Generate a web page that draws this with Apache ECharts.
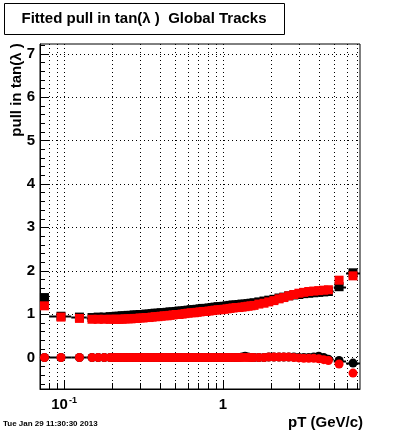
<!DOCTYPE html>
<html>
<head>
<meta charset="utf-8">
<script src="https://cdn.jsdelivr.net/npm/echarts@6/dist/echarts.min.js"></script>
<style>
html,body{margin:0;padding:0;background:#fff;}
#c{width:400px;height:433px;}
</style>
</head>
<body>
<div id="c"></div>
<script>
// ---- data ----
const pT = [0.0753, 0.0957, 0.125,
  0.150, 0.164, 0.179, 0.195,
  0.204, 0.213, 0.222, 0.232, 0.242, 0.253, 0.264, 0.276, 0.288, 0.301,
  0.314, 0.328, 0.343, 0.358, 0.374, 0.390, 0.408, 0.426, 0.445, 0.464,
  0.485, 0.507, 0.529, 0.553, 0.577, 0.603, 0.630, 0.658, 0.687, 0.717,
  0.749, 0.782, 0.817, 0.853, 0.891, 0.931, 0.972, 1.015, 1.060, 1.107,
  1.156, 1.208, 1.261, 1.317, 1.376, 1.437, 1.500, 1.567,
  1.68, 1.81, 1.94, 2.09, 2.25, 2.41, 2.59, 2.79, 3.00, 3.22,
  3.46, 3.72, 4.00, 4.30, 4.60, 5.37, 6.57];
const sigmaRed = [1.19, 0.93, 0.90,
  0.88, 0.88, 0.88, 0.88,
  0.88, 0.88, 0.88, 0.88, 0.89, 0.89, 0.89, 0.90, 0.90, 0.91,
  0.91, 0.92, 0.92, 0.93, 0.94, 0.94, 0.95, 0.96, 0.96, 0.97,
  0.98, 0.99, 0.99, 1.00, 1.01, 1.02, 1.03, 1.03, 1.04, 1.05,
  1.06, 1.06, 1.07, 1.08, 1.09, 1.10, 1.10, 1.11, 1.12, 1.13,
  1.14, 1.15, 1.15, 1.16, 1.17, 1.18, 1.19, 1.20,
  1.23, 1.25, 1.28, 1.31, 1.35, 1.38, 1.42, 1.45, 1.48, 1.50,
  1.52, 1.53, 1.54, 1.55, 1.56, 1.78, 1.88];
const sigmaBlack = [1.38, 0.95, 0.93,
  0.92, 0.93, 0.93, 0.94,
  0.94, 0.95, 0.95, 0.96, 0.96, 0.97, 0.97, 0.98, 0.98, 0.99,
  0.99, 1.00, 1.00, 1.01, 1.02, 1.02, 1.03, 1.03, 1.04, 1.05,
  1.05, 1.06, 1.07, 1.07, 1.08, 1.09, 1.10, 1.10, 1.11, 1.12,
  1.13, 1.13, 1.14, 1.15, 1.16, 1.17, 1.17, 1.18, 1.19, 1.20,
  1.21, 1.21, 1.22, 1.23, 1.23, 1.24, 1.25, 1.26,
  1.28, 1.30, 1.32, 1.34, 1.37, 1.39, 1.42, 1.44, 1.45, 1.47,
  1.48, 1.49, 1.50, 1.51, 1.52, 1.63, 1.95];
const meanRed = [0.00, 0.00, 0.00,
  0.00, 0.00, 0.00, 0.00,
  0.00, 0.00, 0.00, 0.00, 0.00, 0.00, 0.00, 0.00, 0.00, 0.00,
  0.00, 0.00, 0.00, 0.00, 0.00, 0.00, 0.00, 0.00, 0.00, 0.00,
  0.00, 0.00, 0.00, 0.00, 0.00, 0.00, 0.00, 0.00, 0.00, 0.00,
  0.00, 0.00, 0.00, 0.00, 0.00, 0.00, 0.00, 0.00, 0.00, 0.00,
  0.00, 0.00, 0.00, 0.00, 0.00, 0.00, 0.00, 0.00,
  0.00, 0.00, 0.01, 0.01, 0.01, 0.01, 0.01, 0.00, -0.01, -0.02,
  -0.02, -0.02, -0.03, -0.05, -0.07, -0.15, -0.36];
const meanBlack = [0.00, 0.00, 0.00,
  0.00, 0.00, 0.00, 0.00,
  0.00, 0.00, 0.00, 0.00, 0.00, 0.00, 0.00, 0.00, 0.00, 0.00,
  0.00, 0.00, 0.00, 0.00, 0.00, 0.00, 0.00, 0.00, 0.00, 0.00,
  0.00, 0.00, 0.00, 0.00, 0.00, 0.00, 0.00, 0.00, 0.00, 0.00,
  0.00, 0.00, 0.00, 0.00, 0.00, 0.00, 0.00, 0.00, 0.00, 0.00,
  0.00, 0.00, 0.00, 0.01, 0.03, 0.01, 0.00, 0.00,
  0.00, 0.00, 0.01, 0.01, 0.01, 0.01, 0.01, 0.01, 0.00, 0.00,
  0.00, 0.01, 0.03, 0.00, -0.04, -0.07, -0.13];
const firstBinEdges = [0.0705, 0.0805, 0.111, 0.139];

const xMajorTicks = [0.1, 1];
const xMinorTicks = [0.08, 0.09, 0.2, 0.3, 0.4, 0.5, 0.6, 0.7, 0.8, 0.9, 2, 3, 4, 5, 6, 7];
const yMajorTicks = [0, 1, 2, 3, 4, 5, 6, 7];
const yTickLabels = ['0', '1', '2', '3', '4', '5', '6', '7'];
const yMinorTicks = [-0.6, -0.4, -0.2, 0.2, 0.4, 0.6, 0.8, 1.2, 1.4, 1.6, 1.8, 2.2, 2.4, 2.6, 2.8,
  3.2, 3.4, 3.6, 3.8, 4.2, 4.4, 4.6, 4.8, 5.2, 5.4, 5.6, 5.8, 6.2, 6.4, 6.6, 6.8, 7.2];

const titleText = 'Fitted pull in tan(λ )  Global Tracks';
const yTitle = 'pull in tan(λ )';
const xTitle = 'pT (GeV/c)';
const dateText = 'Tue Jan 29 11:30:30 2013';

const X_MIN = 0.0706, X_MAX = 7.27, Y_MIN = -0.726, Y_MAX = 7.22;
const FONT = '"Liberation Sans", Arial, Helvetica, sans-serif';

// bin edges for black horizontal error bars
function edges(i) {
  let lo, hi;
  if (i + 1 < firstBinEdges.length) { lo = firstBinEdges[i]; hi = firstBinEdges[i + 1]; }
  else {
    lo = (i === firstBinEdges.length - 1) ? firstBinEdges[i] : Math.sqrt(pT[i - 1] * pT[i]);
    hi = (i === pT.length - 1) ? X_MAX : Math.sqrt(pT[i] * pT[i + 1]);
  }
  return [lo, hi];
}
const errData = [];
pT.forEach((x, i) => {
  const e = edges(i);
  errData.push([x, sigmaBlack[i], e[0], e[1]]);
  errData.push([x, meanBlack[i], e[0], e[1]]);
});

const px = v => Math.round(v) + 0.5;
const solid = c => ({color: c, opacity: 1, borderWidth: 0});

const chart = echarts.init(document.getElementById('c'), null, {renderer: 'canvas'});
chart.setOption({
  animation: false,
  backgroundColor: '#fff',
  grid: {left: 40, right: 40, top: 44, bottom: 44, show: true, borderColor: '#000', borderWidth: 1, backgroundColor: 'transparent'},
  xAxis: {
    type: 'log', logBase: 10, min: X_MIN, max: X_MAX,
    axisLine: {show: true, onZero: false, lineStyle: {color: '#000', width: 1}},
    axisTick: {show: false}, splitLine: {show: false}, minorTick: {show: false},
    axisLabel: {
      margin: 7, color: '#000', fontFamily: FONT, fontWeight: 'bold', fontSize: 15,
      formatter: function (v) {
        const l = Math.log10(v);
        if (Math.abs(l - Math.round(l)) > 1e-6) return '';
        const e = Math.round(l);
        if (e === 0) return '{a|1}';
        return '{a|10}{s|' + e + '}';
      },
      rich: {
        a: {fontFamily: FONT, fontWeight: 'bold', fontSize: 15, color: '#000', lineHeight: 18},
        s: {fontFamily: FONT, fontWeight: 'bold', fontSize: 9, color: '#000', verticalAlign: 'top', lineHeight: 10, padding: [0, 0, 0, 1]}
      }
    }
  },
  yAxis: {
    type: 'value', min: Y_MIN, max: Y_MAX,
    axisLine: {show: true, onZero: false, lineStyle: {color: '#000', width: 1}},
    axisTick: {show: false}, splitLine: {show: false}, axisLabel: {show: false}
  },
  series: [
    { // x ticks + vertical dotted grid
      type: 'custom', clip: false, silent: true, z: 1,
      data: xMajorTicks.map(v => [v, 1, 1]).concat(xMinorTicks.map(v => [v, 1, 0])),
      renderItem: function (params, api) {
        const v = api.value(0), major = api.value(2);
        const b = api.coord([v, Y_MIN]), t = api.coord([v, Y_MAX]);
        const x = px(b[0]);
        return {type: 'group', children: [
          {type: 'line', shape: {x1: x, y1: t[1], x2: x, y2: b[1]}, style: {stroke: '#000', lineWidth: 1, lineDash: [1, 3]}},
          {type: 'line', shape: {x1: x, y1: b[1], x2: x, y2: b[1] - (major ? 9 : 6)}, style: {stroke: '#000', lineWidth: 1}}
        ]};
      }
    },
    { // y ticks + horizontal dotted grid + labels
      type: 'custom', clip: false, silent: true, z: 1,
      data: yMajorTicks.map((v, i) => [1, v, 1, i]).concat(yMinorTicks.map(v => [1, v, 0, -1])),
      renderItem: function (params, api) {
        const v = api.value(1), major = api.value(2), li = api.value(3);
        const l = api.coord([X_MIN, v]), r = api.coord([X_MAX, v]);
        const y = px(l[1]);
        const ch = [{type: 'line', shape: {x1: l[0], y1: y, x2: l[0] + (major ? 9 : 5), y2: y}, style: {stroke: '#000', lineWidth: 1}}];
        if (major) {
          ch.push({type: 'line', shape: {x1: l[0], y1: y, x2: r[0], y2: y}, style: {stroke: '#000', lineWidth: 1, lineDash: [1, 3]}});
          ch.push({type: 'text', x: l[0] - 5, y: l[1], style: {text: yTickLabels[li], font: 'bold 15px ' + FONT, fill: '#000', align: 'right', verticalAlign: 'middle'}});
        }
        return {type: 'group', children: ch};
      }
    },
    { // black horizontal error bars
      type: 'custom', clip: true, silent: true, z: 2,
      data: errData,
      renderItem: function (params, api) {
        const a = api.coord([api.value(2), api.value(1)]);
        const b = api.coord([api.value(3), api.value(1)]);
        const y = px(a[1]);
        return {type: 'line', shape: {x1: a[0], y1: y, x2: b[0], y2: y}, style: {stroke: '#000', lineWidth: 2}};
      }
    },
    {type: 'scatter', z: 3, symbol: 'rect', symbolSize: 9, itemStyle: solid('#000'), data: pT.map((x, i) => [x, sigmaBlack[i]])},
    {type: 'scatter', z: 3, symbol: 'circle', symbolSize: 9, itemStyle: solid('#000'), data: pT.map((x, i) => [x, meanBlack[i]])},
    {type: 'scatter', z: 4, symbol: 'rect', symbolSize: 9, itemStyle: solid('#ff0000'), data: pT.map((x, i) => [x, sigmaRed[i]])},
    {type: 'scatter', z: 4, symbol: 'circle', symbolSize: 9, itemStyle: solid('#ff0000'), data: pT.map((x, i) => [x, meanRed[i]])}
  ],
  graphic: [
    {type: 'rect', left: 4, top: 3, shape: {x: 0, y: 0, width: 280, height: 31}, style: {fill: '#fff', stroke: '#000', lineWidth: 1}, z: 10},
    {type: 'text', x: 144, y: 19, z: 11, style: {text: titleText, font: 'bold 15px ' + FONT, fill: '#000', align: 'center', verticalAlign: 'middle'}},
    {type: 'text', x: 17, y: 90, rotation: Math.PI / 2, z: 11, style: {text: yTitle, font: 'bold 15px ' + FONT, fill: '#000', align: 'center', verticalAlign: 'middle'}},
    {type: 'text', x: 363, y: 423, z: 11, style: {text: xTitle, font: 'bold 15px ' + FONT, fill: '#000', align: 'right', verticalAlign: 'middle'}},
    {type: 'text', x: 3, y: 424, z: 11, style: {text: dateText, font: 'bold 8px ' + FONT, fill: '#000', align: 'left', verticalAlign: 'middle'}}
  ]
});
</script>
</body>
</html>
